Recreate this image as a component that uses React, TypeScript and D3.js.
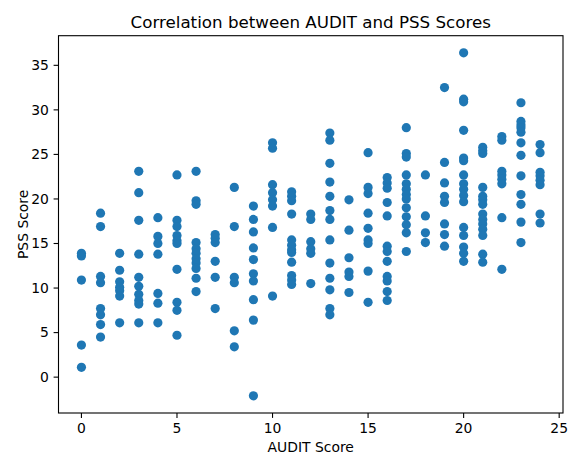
import { useMemo } from 'react';
import * as d3 from 'd3';

// AUDIT score (x) and PSS score (y), one line per AUDIT value
const auditScores = [
  0, 0, 0, 0, 0,
  1, 1, 1, 1, 1, 1, 1, 1,
  2, 2, 2, 2, 2, 2, 2,
  3, 3, 3, 3, 3, 3, 3, 3, 3, 3,
  4, 4, 4, 4, 4, 4, 4,
  5, 5, 5, 5, 5, 5, 5, 5, 5, 5,
  6, 6, 6, 6, 6, 6, 6, 6, 6, 6, 6,
  7, 7, 7, 7, 7, 7,
  8, 8, 8, 8, 8, 8,
  9, 9, 9, 9, 9, 9, 9, 9, 9, 9,
  10, 10, 10, 10, 10, 10, 10, 10,
  11, 11, 11, 11, 11, 11, 11, 11, 11, 11, 11, 11,
  12, 12, 12, 12, 12, 12,
  13, 13, 13, 13, 13, 13, 13, 13, 13, 13, 13, 13, 13,
  14, 14, 14, 14, 14, 14,
  15, 15, 15, 15, 15, 15, 15, 15, 15,
  16, 16, 16, 16, 16, 16, 16, 16, 16, 16, 16, 16,
  17, 17, 17, 17, 17, 17, 17, 17, 17, 17, 17, 17, 17,
  18, 18, 18, 18,
  19, 19, 19, 19, 19, 19, 19, 19,
  20, 20, 20, 20, 20, 20, 20, 20, 20, 20, 20, 20, 20, 20, 20, 20,
  21, 21, 21, 21, 21, 21, 21, 21, 21, 21, 21, 21, 21, 21,
  22, 22, 22, 22, 22, 22, 22, 22,
  23, 23, 23, 23, 23, 23, 23, 23, 23, 23, 23, 23,
  24, 24, 24, 24, 24, 24, 24, 24,
];

const pssScores = [
  13.9, 13.6, 10.9, 3.6, 1.1,
  18.4, 16.9, 11.3, 10.6, 7.7, 7.0, 5.9, 4.5,
  13.9, 12.0, 10.7, 10.1, 9.7, 9.1, 6.1,
  23.1, 20.7, 17.6, 13.8, 11.2, 10.2, 9.3, 8.6, 8.2, 6.1,
  17.9, 15.8, 15.0, 13.8, 9.4, 8.3, 6.1,
  22.7, 17.6, 16.9, 15.9, 15.3, 15.0, 12.1, 8.4, 7.5, 4.7,
  23.1, 19.8, 19.4, 15.1, 14.4, 13.9, 13.3, 12.8, 12.2, 11.1, 9.6,
  16.0, 15.6, 15.1, 13.0, 11.2, 7.7,
  21.3, 16.9, 11.2, 10.6, 5.2, 3.4,
  19.2, 17.7, 16.3, 14.5, 13.2, 11.6, 10.8, 8.7, 6.4, -2.1,
  26.3, 25.7, 21.6, 20.7, 19.9, 19.2, 16.8, 9.1,
  20.8, 20.3, 19.8, 18.3, 15.4, 14.8, 14.3, 14.0, 12.9, 11.4, 10.9, 10.4,
  18.3, 17.7, 15.2, 14.4, 13.9, 10.5,
  27.4, 26.6, 24.0, 21.9, 20.3, 18.7, 17.7, 15.4, 12.8, 11.1, 9.8, 7.7, 7.0,
  19.9, 16.5, 13.4, 11.8, 11.3, 9.5,
  25.2, 21.3, 20.6, 18.4, 16.7, 15.4, 15.0, 11.9, 8.4,
  22.4, 21.8, 21.2, 19.6, 18.1, 14.7, 14.1, 13.0, 11.3, 10.8, 9.6, 8.6,
  28.0, 25.1, 24.7, 22.7, 21.7, 21.1, 20.5, 20.0, 19.0, 18.0, 17.1, 16.2, 14.1,
  22.7, 18.1, 16.2, 15.1,
  32.5, 24.1, 21.8, 20.3, 19.6, 17.2, 16.0, 14.7,
  36.4, 31.2, 30.9, 27.7, 24.6, 24.3, 22.7, 21.7, 21.1, 20.4, 19.7, 16.8, 15.9, 14.6, 13.9, 13.0,
  25.8, 25.4, 25.1, 21.3, 20.3, 19.9, 19.4, 18.3, 17.7, 17.2, 16.6, 15.9, 13.8, 12.9,
  27.0, 26.6, 23.1, 22.7, 22.2, 21.7, 17.9, 12.1,
  30.8, 28.7, 28.3, 28.0, 27.5, 26.3, 24.9, 22.6, 20.5, 19.4, 17.4, 15.1,
  26.1, 25.2, 23.0, 22.6, 22.1, 21.6, 18.3, 17.3,
];

const xTicks = [0, 5, 10, 15, 20, 25];
const yTicks = [0, 5, 10, 15, 20, 25, 30, 35];

const title = 'Correlation between AUDIT and PSS Scores';
const xLabel = 'AUDIT Score';
const yLabel = 'PSS Score';

export default function App() {
  const width = 569;
  const height = 457;
  const margin = { top: 35.7, right: 6, bottom: 44, left: 58.5 };
  const font = 'DejaVu Sans, sans-serif';

  // matplotlib style 5% padding around the data
  const pad = (lo: number, hi: number): [number, number] => {
    const d = (hi - lo) * 0.05;
    return [lo - d, hi + d];
  };

  const x = useMemo(() => d3.scaleLinear()
    .domain(pad(d3.min(auditScores)!, d3.max(auditScores)!))
    .range([margin.left, width - margin.right]), []);

  const y = useMemo(() => d3.scaleLinear()
    .domain(pad(d3.min(pssScores)!, d3.max(pssScores)!))
    .range([height - margin.bottom, margin.top]), []);

  const [x0, x1] = x.range();
  const [y0, y1] = y.range();
  const cx = (x0 + x1) / 2;
  const cy = (y0 + y1) / 2;

  return (
    <svg width={width} height={height}
      style={{ position: 'fixed', left: 0, top: 0, background: '#fff' }}
      fontFamily={font}>
      <rect x={0} y={0} width={width} height={height} fill="#fff" />

      {auditScores.map((a, i) => (
        <circle key={i} cx={x(a)} cy={y(pssScores[i])} r={4.6} fill="#1f77b4" />
      ))}

      {/* frame */}
      <rect x={x0} y={y1} width={x1 - x0} height={y0 - y1}
        fill="none" stroke="#000" strokeWidth={1.1} />

      {/* x ticks */}
      {xTicks.map(t => (
        <g key={'x' + t} transform={`translate(${x(t)},${y0})`}>
          <line y2={4.9} stroke="#000" strokeWidth={1.1} />
          <text y={20.3} textAnchor="middle" fontSize={13.9} fill="#000">{t}</text>
        </g>
      ))}

      {/* y ticks */}
      {yTicks.map(t => (
        <g key={'y' + t} transform={`translate(${x0},${y(t)})`}>
          <line x2={-4.9} stroke="#000" strokeWidth={1.1} />
          <text x={-9.6} dy="0.35em" textAnchor="end" fontSize={13.9} fill="#000">{t}</text>
        </g>
      ))}

      <text x={cx} y={28} textAnchor="middle" fontSize={16.7} fill="#000">{title}</text>
      <text x={cx} y={452} textAnchor="middle" fontSize={13.9} fill="#000">{xLabel}</text>
      <text transform={`translate(28,${cy}) rotate(-90)`} textAnchor="middle"
        fontSize={13.9} fill="#000">{yLabel}</text>
    </svg>
  );
}
